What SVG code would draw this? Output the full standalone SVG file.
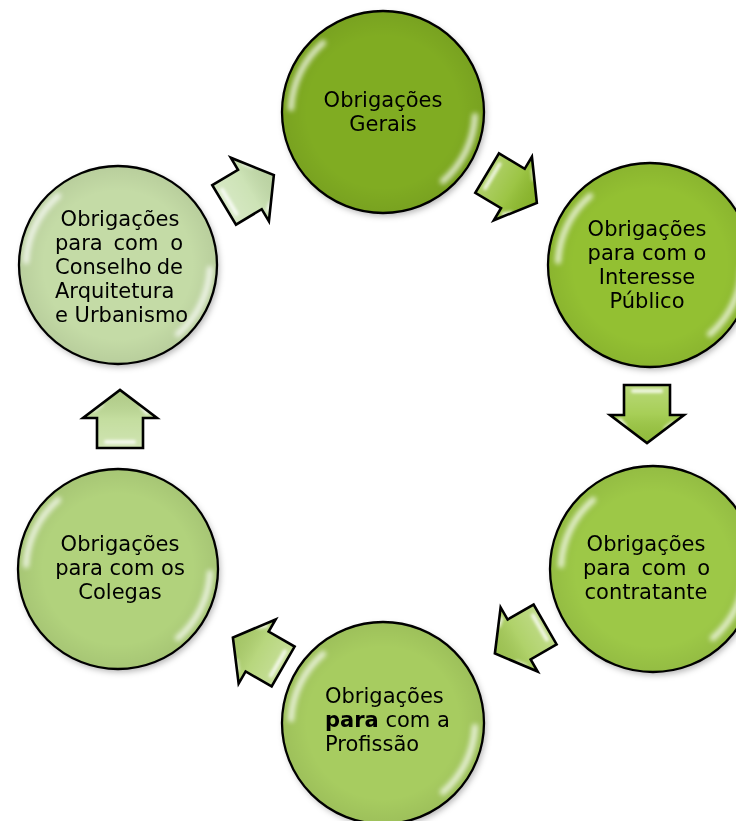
<svg xmlns="http://www.w3.org/2000/svg" xmlns:xlink="http://www.w3.org/1999/xlink" width="736" height="821" viewBox="0 0 736 821">
<style>
  .lbl { font-family: "DejaVu Sans", "Open Sans", sans-serif; font-size: 21px; fill: #000; }
  .mid { text-anchor: middle; }
  .end { text-anchor: end; }
  .ring { fill: none; stroke: #000; stroke-width: 2.3; }
  .aline { fill: none; stroke: #000; stroke-width: 2.6; stroke-linejoin: miter; }
  .glow { fill: none; stroke: #fff; stroke-linecap: round; }
</style>
<defs>
  <filter id="shadow" x="-20%" y="-20%" width="150%" height="150%">
    <feDropShadow dx="2" dy="3" stdDeviation="3" flood-color="#000" flood-opacity="0.3"/>
  </filter>
  <filter id="blur" x="-30%" y="-30%" width="160%" height="160%">
    <feGaussianBlur stdDeviation="2.6"/>
  </filter>
  <filter id="blurS" x="-50%" y="-50%" width="200%" height="200%">
    <feGaussianBlur stdDeviation="1.6"/>
  </filter>
  <radialGradient id="edge" cx="0.5" cy="0.5" r="0.5">
    <stop offset="0.75" stop-color="#000" stop-opacity="0"/>
    <stop offset="1" stop-color="#000" stop-opacity="0.06"/>
  </radialGradient>
  <linearGradient id="abevel" x1="0" y1="0" x2="1" y2="0">
    <stop offset="0" stop-color="#fff" stop-opacity="0.3"/>
    <stop offset="0.5" stop-color="#fff" stop-opacity="0.12"/>
    <stop offset="1" stop-color="#000" stop-opacity="0.06"/>
  </linearGradient>
  <g id="gloss" filter="url(#blur)">
    <path class="glow" d="M -92,-4 A 92 92 0 0 1 -60,-69" stroke-width="6" opacity="0.75"/>
    <path class="glow" d="M 92,4 A 92 92 0 0 1 60,69" stroke-width="6" opacity="0.75"/>
  </g>
  <path id="arrowShape" d="M-29,-23 L1,-23 L1,-37 L29,0 L1,37 L1,23 L-29,23 Z"/>
  <g id="arrowGloss" filter="url(#blurS)">
    <path class="glow" d="M-23,-14 L-23,14" stroke-width="4" opacity="0.8"/>
    <path class="glow" d="M6,27 L12,22" stroke-width="4" opacity="0.8"/>
    <path class="glow" d="M8,-26 L14,-18" stroke-width="3" opacity="0.6"/>
  </g>
</defs>

<g id="connectors">
  <g id="arrow1" transform="translate(512,188) rotate(31)">
    <use xlink:href="#arrowShape" href="#arrowShape" fill="#8fbd2c"/>
    <use xlink:href="#arrowShape" href="#arrowShape" fill="url(#abevel)"/>
    <use xlink:href="#arrowGloss" href="#arrowGloss"/>
    <use xlink:href="#arrowShape" href="#arrowShape" class="aline"/>
  </g>
  <g id="arrow2" transform="translate(647,414) rotate(90)">
    <use xlink:href="#arrowShape" href="#arrowShape" fill="#9bc840"/>
    <use xlink:href="#arrowShape" href="#arrowShape" fill="url(#abevel)"/>
    <use xlink:href="#arrowGloss" href="#arrowGloss"/>
    <use xlink:href="#arrowShape" href="#arrowShape" class="aline"/>
  </g>
  <g id="arrow3" transform="translate(520,639) rotate(150)">
    <use xlink:href="#arrowShape" href="#arrowShape" fill="#a5cc56"/>
    <use xlink:href="#arrowShape" href="#arrowShape" fill="url(#abevel)"/>
    <use xlink:href="#arrowGloss" href="#arrowGloss"/>
    <use xlink:href="#arrowShape" href="#arrowShape" class="aline"/>
  </g>
  <g id="arrow4" transform="translate(258,652) rotate(210)">
    <use xlink:href="#arrowShape" href="#arrowShape" fill="#aed16c"/>
    <use xlink:href="#arrowShape" href="#arrowShape" fill="url(#abevel)"/>
    <use xlink:href="#arrowGloss" href="#arrowGloss"/>
    <use xlink:href="#arrowShape" href="#arrowShape" class="aline"/>
  </g>
  <g id="arrow5" transform="translate(120,419) rotate(-90)">
    <use xlink:href="#arrowShape" href="#arrowShape" fill="#bcd992"/>
    <use xlink:href="#arrowShape" href="#arrowShape" fill="url(#abevel)"/>
    <use xlink:href="#arrowGloss" href="#arrowGloss"/>
    <use xlink:href="#arrowShape" href="#arrowShape" class="aline"/>
  </g>
  <g id="arrow6" transform="translate(249,190) rotate(-31)">
    <use xlink:href="#arrowShape" href="#arrowShape" fill="#c6dfac"/>
    <use xlink:href="#arrowShape" href="#arrowShape" fill="url(#abevel)"/>
    <use xlink:href="#arrowGloss" href="#arrowGloss"/>
    <use xlink:href="#arrowShape" href="#arrowShape" class="aline"/>
  </g>
</g>

<g id="node1">
  <g transform="translate(383,112)">
    <circle r="101" fill="#80ac24" filter="url(#shadow)"/>
    <circle r="101" fill="url(#edge)"/>
    <use xlink:href="#gloss" href="#gloss"/>
    <circle r="101" class="ring"/>
  </g>
  <text class="lbl mid" x="383" y="107">Obrigações</text>
  <text class="lbl mid" x="383" y="131">Gerais</text>
</g>

<g id="node2">
  <g transform="translate(650,265)">
    <circle r="102" fill="#93c030" filter="url(#shadow)"/>
    <circle r="102" fill="url(#edge)"/>
    <use xlink:href="#gloss" href="#gloss"/>
    <circle r="102" class="ring"/>
  </g>
  <text class="lbl mid" x="647" y="236">Obrigações</text>
  <text class="lbl mid" x="647" y="260">para com o</text>
  <text class="lbl mid" x="647" y="284">Interesse</text>
  <text class="lbl mid" x="647" y="308">Público</text>
</g>

<g id="node3">
  <g transform="translate(653,569)">
    <circle r="103" fill="#9dc847" filter="url(#shadow)"/>
    <circle r="103" fill="url(#edge)"/>
    <use xlink:href="#gloss" href="#gloss"/>
    <circle r="103" class="ring"/>
  </g>
  <text class="lbl mid" x="646" y="551">Obrigações</text>
  <text class="lbl" x="583" y="575">para</text>
  <text class="lbl mid" x="664" y="575">com</text>
  <text class="lbl end" x="710" y="575">o</text>
  <text class="lbl mid" x="646" y="599">contratante</text>
</g>

<g id="node4">
  <g transform="translate(383,723)">
    <circle r="101" fill="#a7cc60" filter="url(#shadow)"/>
    <circle r="101" fill="url(#edge)"/>
    <use xlink:href="#gloss" href="#gloss"/>
    <circle r="101" class="ring"/>
  </g>
  <text class="lbl" x="325" y="703">Obrigações</text>
  <text class="lbl" x="325" y="727"><tspan font-weight="bold">para</tspan> com a</text>
  <text class="lbl" x="325" y="751">Profissão</text>
</g>

<g id="node5">
  <g transform="translate(118,569)">
    <circle r="100" fill="#b1d27b" filter="url(#shadow)"/>
    <circle r="100" fill="url(#edge)"/>
    <use xlink:href="#gloss" href="#gloss"/>
    <circle r="100" class="ring"/>
  </g>
  <text class="lbl mid" x="120" y="551">Obrigações</text>
  <text class="lbl mid" x="120" y="575">para com os</text>
  <text class="lbl mid" x="120" y="599">Colegas</text>
</g>

<g id="node6">
  <g transform="translate(118,265)">
    <circle r="99" fill="#c4dba6" filter="url(#shadow)"/>
    <circle r="99" fill="url(#edge)"/>
    <use xlink:href="#gloss" href="#gloss"/>
    <circle r="99" class="ring"/>
  </g>
  <text class="lbl mid" x="120" y="226">Obrigações</text>
  <text class="lbl" x="55" y="250">para</text>
  <text class="lbl mid" x="136" y="250">com</text>
  <text class="lbl end" x="183" y="250">o</text>
  <text class="lbl" x="55" y="274">Conselho</text>
  <text class="lbl end" x="183" y="274">de</text>
  <text class="lbl" x="55" y="298">Arquitetura</text>
  <text class="lbl" x="55" y="322">e Urbanismo</text>
</g>
</svg>
